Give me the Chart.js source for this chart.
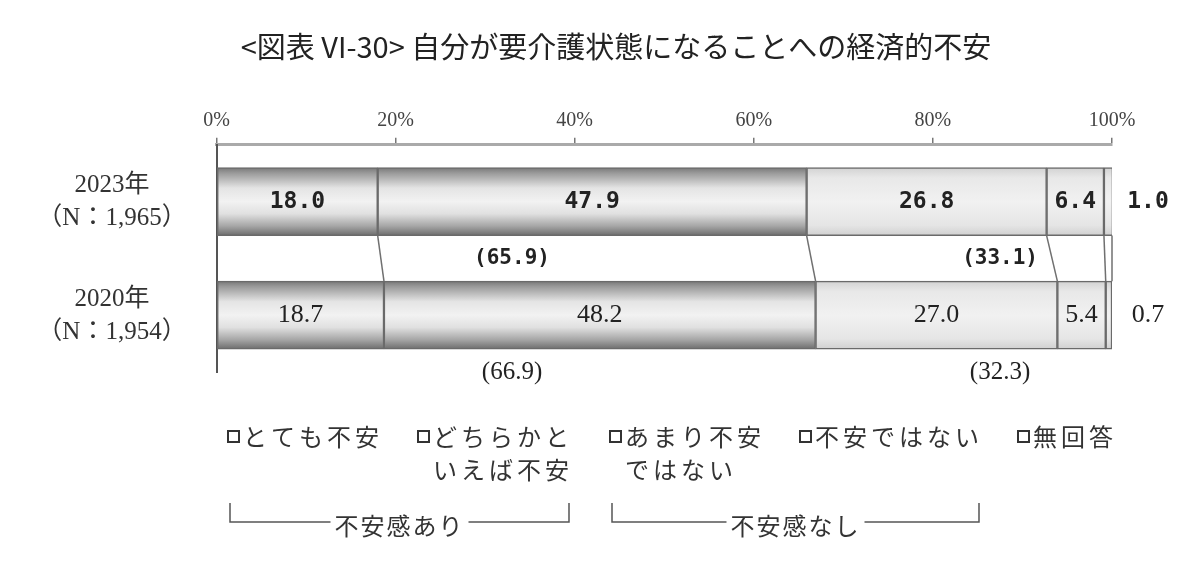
<!DOCTYPE html>
<html lang="ja">
<head>
<meta charset="utf-8">
<script src="https://cdn.jsdelivr.net/npm/chart.js@4.4.1/dist/chart.umd.min.js"></script>
<style>
  html, body { margin: 0; padding: 0; background: #fff; }
  #wrap { width: 1200px; height: 584px; }
</style>
</head>
<body>
<div id="wrap"><canvas id="chart"></canvas></div>
<script>
// 自分が要介護状態になることへの経済的不安

const years = ['2023年', '2020年'];
const sampleSizes = ['1,965', '1,954'];
const seriesNames = [['とても不安'], ['どちらかと', 'いえば不安'], ['あまり不安', 'ではない'], ['不安ではない'], ['無回答']];
const veryAnxious = [18.0, 18.7];
const somewhatAnxious = [47.9, 48.2];
const notVeryAnxious = [26.8, 27.0];
const notAnxious = [6.4, 5.4];
const noAnswer = [1.0, 0.7];
const anxiousTotal = [65.9, 66.9];
const notAnxiousTotal = [33.1, 32.3];
const groupNames = ['不安感あり', '不安感なし'];
const xTicks = [0, 20, 40, 60, 80, 100];

const GOTHIC = "'Noto Sans CJK JP', sans-serif";
const MINCHO = "'Liberation Serif', 'Noto Sans CJK JP', serif";
const MONO = "'DejaVu Sans Mono', monospace";
const rowValueFont = ['bold 23px ' + MONO, '26px ' + MINCHO];
const rowTotalFont = ['bold 21px ' + MONO, '25px ' + MINCHO];
const totalAnchor = [33, 87.5];   // where the (..) totals sit on the x scale
const legendX = [228, 418, 610, 800, 1018];
const legendY = 437;

function barFill(dark) {
    return function (c) {
        const chart = c.chart;
        const y = chart.scales.y;
        if (!chart.chartArea || !y || c.dataIndex === undefined) return dark ? '#bbbbbb' : '#e8e8e8';
        const cy = y.getPixelForValue(c.dataIndex);
        const g = chart.ctx.createLinearGradient(0, cy - 34, 0, cy + 34);
        if (dark) {
            g.addColorStop(0, '#787878');
            g.addColorStop(0.08, '#9a9a9a');
            g.addColorStop(0.3, '#e4e4e4');
            g.addColorStop(0.5, '#f2f2f2');
            g.addColorStop(0.68, '#e0e0e0');
            g.addColorStop(0.86, '#a6a6a6');
            g.addColorStop(1, '#6c6c6c');
        } else {
            g.addColorStop(0, '#d2d2d2');
            g.addColorStop(0.15, '#e8e8e8');
            g.addColorStop(0.5, '#f1f1f1');
            g.addColorStop(0.85, '#e5e5e5');
            g.addColorStop(1, '#d0d0d0');
        }
        return g;
    };
}

const seriesData = [veryAnxious, somewhatAnxious, notVeryAnxious, notAnxious, noAnswer];

const datasets = seriesData.map(function (vals, i) {
    return {
        label: seriesNames[i].join(''),
        data: vals,
        backgroundColor: barFill(i < 2),
        borderColor: '#6a6a6a',
        borderWidth: 1.5,
        borderSkipped: false,
        barThickness: 68
    };
});

const drawExtras = {
    id: 'drawExtras',
    afterDatasetsDraw(chart) {
        const ctx = chart.ctx;
        const area = chart.chartArea;
        const xs = chart.scales.x;
        const n = chart.data.datasets.length;
        ctx.save();

        // connector lines between the two bars
        ctx.strokeStyle = '#707070';
        ctx.lineWidth = 1.5;
        for (let d = 0; d < n; d++) {
            const meta = chart.getDatasetMeta(d);
            const a = meta.data[0], b = meta.data[1];
            ctx.beginPath();
            ctx.moveTo(Math.min(a.x, area.right), a.y + a.height / 2);
            ctx.lineTo(Math.min(b.x, area.right), b.y - b.height / 2);
            ctx.stroke();
        }

        // values
        ctx.textAlign = 'center';
        ctx.textBaseline = 'middle';
        ctx.fillStyle = '#222';
        chart.data.datasets.forEach(function (ds, d) {
            chart.getDatasetMeta(d).data.forEach(function (bar, i) {
                ctx.font = rowValueFont[i];
                const t = ds.data[i].toFixed(1);
                if (d === n - 1) ctx.fillText(t, area.right + 36, bar.y);
                else ctx.fillText(t, (bar.base + bar.x) / 2, bar.y);
            });
        });

        // group totals
        const m = chart.getDatasetMeta(0).data;
        const gap = (m[1].y - m[1].height / 2) - (m[0].y + m[0].height / 2);
        const rowsY = [m[0].y + m[0].height / 2 + gap / 2, m[1].y + m[1].height / 2 + gap / 2];
        [anxiousTotal, notAnxiousTotal].forEach(function (tot, g) {
            tot.forEach(function (v, i) {
                ctx.font = rowTotalFont[i];
                ctx.fillText('(' + v.toFixed(1) + ')', xs.getPixelForValue(totalAnchor[g]), rowsY[i]);
            });
        });

        // year labels
        ctx.font = '25px ' + MINCHO;
        ctx.fillStyle = '#333';
        m.forEach(function (bar, i) {
            ctx.fillText(years[i], 112, bar.y - 16);
            ctx.fillText('（N：' + sampleSizes[i] + '）', 112, bar.y + 17);
        });
        ctx.restore();
    },
    afterDraw(chart) {
        const ctx = chart.ctx;
        ctx.save();
        ctx.font = '24px ' + GOTHIC;
        ctx.letterSpacing = '4px';
        ctx.textAlign = 'left';
        ctx.textBaseline = 'middle';
        const ends = [];
        seriesNames.forEach(function (lines, i) {
            const x = legendX[i];
            ctx.fillStyle = '#fff';
            ctx.fillRect(x, legendY - 6, 11, 11);
            ctx.strokeStyle = '#333';
            ctx.lineWidth = 2;
            ctx.strokeRect(x, legendY - 6, 11, 11);
            ctx.fillStyle = '#333';
            lines.forEach(function (s, k) {
                ctx.fillText(s, x + 15, legendY + k * 33);
            });
            ends.push(x + 15 + ctx.measureText(lines[0]).width - 4);
        });

        // brackets under the legend
        const groups = [[0, 1], [2, 3]];
        ctx.letterSpacing = '2px';
        ctx.textAlign = 'center';
        ctx.strokeStyle = '#555';
        ctx.lineWidth = 1.5;
        groups.forEach(function (gr, g) {
            const l = legendX[gr[0]] + 2;
            const r = ends[gr[1]];
            const cx = (l + r) / 2;
            const w = ctx.measureText(groupNames[g]).width;
            const ly = 522;
            ctx.beginPath();
            ctx.moveTo(l, 503);
            ctx.lineTo(l, ly);
            ctx.lineTo(cx - w / 2 - 4, ly);
            ctx.moveTo(cx + w / 2 + 4, ly);
            ctx.lineTo(r, ly);
            ctx.lineTo(r, 503);
            ctx.stroke();
            ctx.fillStyle = '#333';
            ctx.fillText(groupNames[g], cx, ly + 4);
        });
        ctx.restore();
    }
};

new Chart(document.getElementById('chart'), {
    type: 'bar',
    data: { labels: years, datasets: datasets },
    options: {
        indexAxis: 'y',
        responsive: true,
        maintainAspectRatio: false,
        animation: false,
        events: [],
        layout: { padding: { left: 120, right: 88, top: 0, bottom: 212 } },
        plugins: {
            legend: { display: false },
            tooltip: { enabled: false },
            title: {
                display: true,
                text: '<図表 VI-30> 自分が要介護状態になることへの経済的不安',
                color: '#222',
                font: { family: GOTHIC, size: 29, weight: 'normal' },
                padding: { top: 30, bottom: 8 }
            }
        },
        scales: {
            x: {
                position: 'top',
                stacked: true,
                min: 0,
                max: 100,
                afterBuildTicks: function (s) { s.ticks = xTicks.map(v => ({ value: v })); },
                afterFit: function (s) { s.height = 72; },
                ticks: {
                    padding: 5,
                    color: '#444',
                    font: { family: MINCHO, size: 20 },
                    callback: v => v + '%'
                },
                grid: { drawOnChartArea: false, drawTicks: true, tickLength: 7, color: '#777', lineWidth: 1.5 },
                border: { display: true, color: '#aaa', width: 3 }
            },
            y: {
                stacked: true,
                afterFit: function (s) { s.width = 96.5; },
                ticks: { display: false },
                grid: { display: false },
                border: { display: true, color: '#555', width: 2 }
            }
        }
    },
    plugins: [drawExtras]
});
</script>
</body>
</html>
